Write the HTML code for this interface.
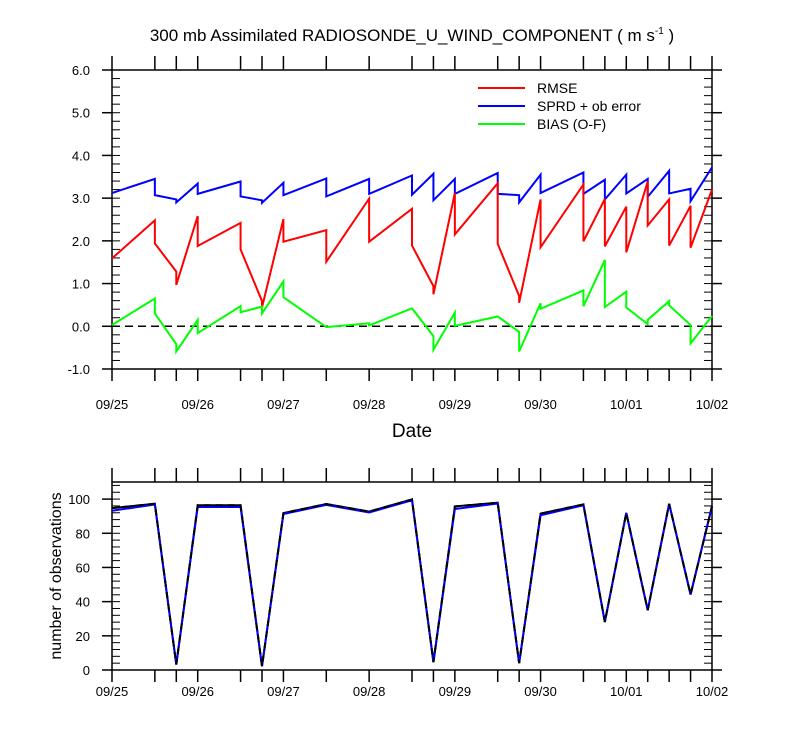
<!DOCTYPE html>
<html><head><meta charset="utf-8">
<style>
body{margin:0;background:#fff;}
svg{display:block;font-family:"Liberation Sans",sans-serif;}
</style></head>
<body>
<svg id="c" width="800" height="750">
<text x="412" y="41" font-size="17" text-anchor="middle">300 mb Assimilated RADIOSONDE_U_WIND_COMPONENT ( m s<tspan dy="-7" font-size="10">-1</tspan><tspan dy="7"> )</tspan></text>
<g id="topPanel"></g>
<g id="botPanel"></g>
<text x="412" y="437" font-size="19" text-anchor="middle">Date</text>
<text transform="translate(61,576) rotate(-90)" font-size="16" text-anchor="middle">number of observations</text>
<g>
<line x1="478" y1="88" x2="525" y2="88" stroke="#f00" stroke-width="2"/>
<text x="537" y="93" font-size="14">RMSE</text>
<line x1="478" y1="106" x2="525" y2="106" stroke="#00f" stroke-width="2"/>
<text x="537" y="111" font-size="14">SPRD + ob error</text>
<line x1="478" y1="124" x2="525" y2="124" stroke="#0f0" stroke-width="2"/>
<text x="537" y="129" font-size="14">BIAS (O-F)</text>
</g>
</svg>
<script>
const hours=[0,12,18,24,36,42,48,60,72,84,90,96,108,114,120,132,138,144,150,156,162,168];
const dayLabels=["09/25","09/26","09/27","09/28","09/29","09/30","10/01","10/02"];
const yTicksTop=[-1,0,1,2,3,4,5,6];
const yTicksBot=[0,20,40,60,80,100];
const sprdStart=[3.12,3.07,2.90,3.10,3.04,2.89,3.07,3.04,3.10,3.08,2.95,3.10,3.10,2.90,3.12,3.10,2.97,3.11,3.03,3.11,2.93];
const sprdEnd=[3.45,2.97,3.34,3.39,2.95,3.36,3.46,3.45,3.53,3.57,3.45,3.59,3.07,3.55,3.60,3.43,3.55,3.45,3.64,3.22,3.72];
const rmseStart=[1.59,1.94,0.97,1.88,1.80,0.44,1.98,1.51,1.98,1.89,0.75,2.15,1.93,0.55,1.85,1.99,1.87,1.73,2.36,1.89,1.84];
const rmseEnd=[2.48,1.28,2.58,2.42,0.59,2.51,2.25,2.99,2.75,0.94,3.12,3.35,0.71,2.97,3.32,2.98,2.80,3.39,2.97,2.82,3.20];
const biasStart=[0.03,0.30,-0.59,-0.16,0.33,0.30,0.68,-0.02,0.02,0.42,-0.55,0.01,0.23,-0.59,0.41,0.47,0.45,0.44,0.15,0.49,-0.40];
const biasEnd=[0.65,-0.42,0.15,0.47,0.46,1.05,-0.02,0.07,0.42,-0.23,0.32,0.23,-0.13,0.54,0.84,1.55,0.81,0.05,0.59,0.03,0.24];
const obsUsed=[93.2,96.8,3.2,95.4,95.4,2.2,91.3,96.6,92.2,99.3,4.6,94.2,97.4,4.0,90.5,96.4,28.1,91.9,35,97.2,44.2,95.8];
const obsTotal=[94.7,97.3,3.2,96.4,96.4,2.2,91.8,97.1,92.7,99.8,4.6,95.7,97.9,4.0,91.5,96.9,28.1,91.9,35,97.2,44.2,95.8];

const NS="http://www.w3.org/2000/svg";
const X0=112,X1=712;
const x=h=>X0+(X1-X0)*h/168;
const T0=70,T1=369,yTop=v=>T1-(v+1)*(T1-T0)/7;
const B0=482,B1=670,yBot=v=>B1-v*(B1-B0)/110;
function mk(p,tag,a){const e=document.createElementNS(NS,tag);for(const k in a)e.setAttribute(k,a[k]);p.appendChild(e);return e;}
const topG=document.getElementById('topPanel'),botG=document.getElementById('botPanel');

function frame(g,yT,yB,ticks,fmt,minStep,minMax,minMin,yf,lblY,prefix){
  const r=mk(g,'rect',{x:X0,y:yT,width:X1-X0,height:yB-yT,fill:'none',stroke:'#000','stroke-width':1.5});
  
  
  hours.forEach(h=>{
    mk(g,'line',{x1:x(h),x2:x(h),y1:yT,y2:yT-14,stroke:'#000','stroke-width':1.5});
    mk(g,'line',{x1:x(h),x2:x(h),y1:yB,y2:yB+12,stroke:'#000','stroke-width':1.5});
  });
  dayLabels.forEach((d,i)=>{
    const t=mk(g,'text',{x:x(i*24),y:lblY,'font-size':13,'text-anchor':'middle'});t.textContent=d;
    
    
  });
  ticks.forEach(v=>{
    const yy=yf(v);
    mk(g,'line',{x1:X0-10,x2:X0,y1:yy,y2:yy,stroke:'#000','stroke-width':1.5});
    mk(g,'line',{x1:X1,x2:X1+10,y1:yy,y2:yy,stroke:'#000','stroke-width':1.5});
    const t=mk(g,'text',{x:X0-22,y:yy+5,'font-size':13,'text-anchor':'end'});t.textContent=fmt(v);
    
    
  });
  for(let v=minMin;v<=minMax+1e-9;v+=minStep){
    const yy=yf(v);
    mk(g,'line',{x1:X0,x2:X0+8,y1:yy,y2:yy,stroke:'#000','stroke-width':1});
    mk(g,'line',{x1:X1-8,x2:X1,y1:yy,y2:yy,stroke:'#000','stroke-width':1});
  }
}
frame(topG,T0,T1,yTicksTop,v=>v.toFixed(1),0.2,6,-1,yTop,409,'top');
frame(botG,B0,B1,yTicksBot,v=>String(v),4,110,0,yBot,696,'bottom');

const z=mk(topG,'line',{x1:X0,x2:X1,y1:yTop(0),y2:yTop(0),stroke:'#000','stroke-width':1.5,'stroke-dasharray':'8,5'});



function saw(st,en,col,name){
  let d='';
  for(let i=0;i<st.length;i++){
    d+=(i?'L':'M')+x(hours[i])+','+yTop(st[i])+'L'+x(hours[i+1])+','+yTop(en[i]);
  }
  const p=mk(topG,'path',{d:d,fill:'none',stroke:col,'stroke-width':2});
  
  
}
saw(sprdStart,sprdEnd,'#00f','sprd-series');
saw(rmseStart,rmseEnd,'#f00','rmse-series');
saw(biasStart,biasEnd,'#0f0','bias-series');

function obs(vals,col,dash,name){
  const d=vals.map((v,i)=>(i?'L':'M')+x(hours[i])+','+yBot(v)).join('');
  const a={d:d,fill:'none',stroke:col,'stroke-width':2};
  if(dash)a['stroke-dasharray']=dash;
  const p=mk(botG,'path',a);
  
  
}
obs(obsTotal,'#000',null,'obs-total-series');
obs(obsUsed,'#00f',null,'obs-used-series');
obs(obsTotal,'#000','7,5','obs-total-dashed');
</script>
</body></html>
